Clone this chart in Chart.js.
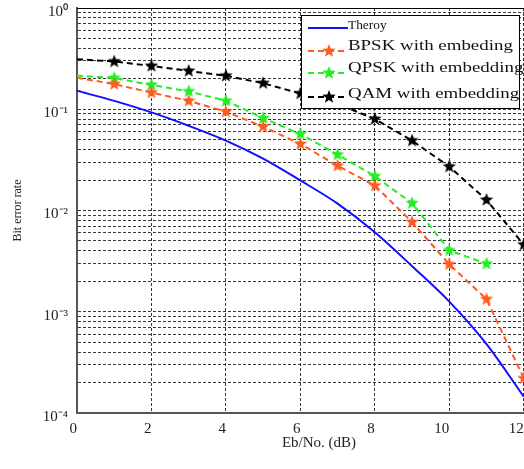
<!DOCTYPE html>
<html>
<head>
<meta charset="utf-8">
<script src="https://cdn.jsdelivr.net/npm/chart.js@4"></script>
<style>
  html, body { margin: 0; padding: 0; background: #fff; overflow: hidden; width: 524px; height: 469px; }
  #wrap { position: relative; width: 569px; height: 469px; }
  #legend {
    position: absolute; left: 301px; top: 15px; width: 217px; height: 92px;
    border: 1px solid #000; background: #fff;
    font-family: "Liberation Serif", "Times New Roman", serif; color: #111;
  }
  #legend canvas { position: absolute; left: 6px; }
  #legend span { position: absolute; left: 46px; line-height: 1; white-space: nowrap; transform-origin: left center; }
</style>
</head>
<body>
<div id="wrap">
  <canvas id="berChart" width="569" height="469"></canvas>
  <div id="legend"></div>
</div>
<script>
// Eb/No (dB) and bit error rate
const ebNo = [0, 1, 2, 3, 4, 5, 6, 7, 8, 9, 10, 11, 12];
const theory = [0.152, 0.121, 0.0931, 0.0687, 0.049, 0.0325, 0.0198, 0.0117, 0.0061, 0.00282, 0.00126, 0.000479, 0.000145];
const bpsk = [0.205, 0.177, 0.146, 0.121, 0.0945, 0.0673, 0.0454, 0.0277, 0.0176, 0.00767, 0.00294, 0.00133, 0.00022];
const qpsk = [0.215, 0.203, 0.174, 0.150, 0.121, 0.0819, 0.0569, 0.0356, 0.0218, 0.0118, 0.00404, 0.00298];
const qam = [0.312, 0.296, 0.268, 0.239, 0.214, 0.181, 0.143, 0.113, 0.080, 0.049, 0.0271, 0.0127, 0.0046];

const seriesNames = ["Theroy", "BPSK with embeding", "QPSK with embedding", "QAM with embedding"];
const xTickValues = [0, 2, 4, 6, 8, 10, 12];
const yDecades = [1e-4, 1e-3, 1e-2, 1e-1, 1];
const yTickLabels = ["10\u207B\u2074", "10\u207B\u00B3", "10\u207B\u00B2", "10\u207B\u00B9", "10\u2070"];

const serif = "'Liberation Serif', 'Times New Roman', serif";
const gridColor = "rgba(0,0,0,0.78)";

function starMarker(color) {
  const r = 7;
  const c = document.createElement("canvas");
  c.width = c.height = 2 * r + 2;
  const g = c.getContext("2d");
  g.beginPath();
  for (let k = 0; k < 10; k++) {
    const rad = k % 2 ? r * 0.42 : r;
    const a = -Math.PI / 2 + k * Math.PI / 5;
    g.lineTo(r + 1 + rad * Math.cos(a), r + 1 + rad * Math.sin(a));
  }
  g.closePath();
  g.fillStyle = color;
  g.fill();
  return c;
}

function points(values) {
  return values.map((v, i) => ({ x: ebNo[i], y: v }));
}

function markedSeries(label, values, color) {
  return {
    label: label,
    data: points(values),
    borderColor: color,
    backgroundColor: color,
    borderWidth: 2,
    borderDash: [6, 4],
    pointStyle: starMarker(color),
    pointRadius: (c) => (c.dataIndex === 0 ? 0 : 6),
    fill: false,
  };
}

// top edge of the axes box
const frame = {
  id: "frame",
  afterDraw(chart) {
    const { ctx, chartArea } = chart;
    ctx.save();
    ctx.strokeStyle = "#000";
    ctx.lineWidth = 1;
    ctx.beginPath();
    ctx.moveTo(chartArea.left, chartArea.top + 0.5);
    ctx.lineTo(chartArea.right, chartArea.top + 0.5);
    ctx.stroke();
    ctx.restore();
  },
};

const ctx = document.getElementById("berChart").getContext("2d");
const chart = new Chart(ctx, {
  type: "line",
  data: {
    datasets: [
      {
        label: seriesNames[0],
        data: points(theory),
        borderColor: "#1010ff",
        borderWidth: 2,
        pointRadius: 0,
        cubicInterpolationMode: "monotone",
        fill: false,
      },
      markedSeries(seriesNames[1], bpsk, "#ff5a1f"),
      markedSeries(seriesNames[2], qpsk, "#22ee22"),
      markedSeries(seriesNames[3], qam, "#000000"),
    ],
  },
  options: {
    responsive: false,
    animation: false,
    events: [],
    layout: { padding: { top: 7, right: 0, bottom: 0, left: 0 } },
    plugins: { legend: { display: false }, tooltip: { enabled: false } },
    scales: {
      x: {
        type: "linear",
        min: 0,
        max: 13,
        afterBuildTicks: (s) => { s.ticks = xTickValues.map((v) => ({ value: v })); },
        afterFit: (s) => {
          s.height = 56;
          s.paddingLeft = 0;
          s.paddingRight = 0;
        },
        grid: { color: gridColor, lineWidth: 1, drawTicks: false },
        border: { color: "#555", width: 2, dash: [3, 2] },
        ticks: {
          font: { family: serif, size: 15 },
          color: "#222",
          padding: 7,
          align: "end",
          maxRotation: 0,
          autoSkip: false,
        },
        title: {
          display: true,
          text: "Eb/No. (dB)",
          font: { family: serif, size: 15 },
          color: "#222",
          padding: { top: 0, bottom: 17 },
        },
      },
      y: {
        type: "logarithmic",
        min: 1e-4,
        max: 1,
        afterBuildTicks: (s) => {
          const ticks = [];
          for (let d = 0; d < yDecades.length - 1; d++) {
            for (let m = 1; m <= 9; m++) ticks.push({ value: m * yDecades[d] });
          }
          ticks.push({ value: yDecades[yDecades.length - 1] });
          s.ticks = ticks;
        },
        afterFit: (s) => {
          s.width = 77;
          s.paddingTop = 0;
          s.paddingBottom = 0;
        },
        grid: { color: gridColor, lineWidth: 1, drawTicks: false },
        border: { color: "#555", width: 2, dash: [3, 2] },
        ticks: {
          font: { family: serif, size: 15 },
          color: "#222",
          padding: 9,
          labelOffset: 4,
          autoSkip: false,
          callback: (v) => {
            const i = yDecades.findIndex((d) => Math.abs(v / d - 1) < 1e-6);
            return i >= 0 ? yTickLabels[i] : "";
          },
        },
        title: {
          display: true,
          text: "Bit error rate",
          font: { family: serif, size: 12 },
          color: "#222",
          padding: { top: 11, bottom: 0 },
        },
      },
    },
  },
  plugins: [frame],
});

// legend box drawn over the upper right corner
const legend = document.getElementById("legend");
const legendRows = [
  { sampleTop: 4, textTop: 2, size: 13, stretch: 1.03 },
  { sampleTop: 27, textTop: 22, size: 15, stretch: 1.26 },
  { sampleTop: 49, textTop: 44, size: 15, stretch: 1.26 },
  { sampleTop: 73, textTop: 70, size: 15, stretch: 1.26 },
];
chart.data.datasets.forEach((ds, i) => {
  const row = legendRows[i];
  const c = document.createElement("canvas");
  c.width = 42;
  c.height = 16;
  c.style.top = row.sampleTop + "px";
  const g = c.getContext("2d");
  g.strokeStyle = ds.borderColor;
  g.lineWidth = 2;
  g.setLineDash(ds.borderDash || []);
  g.beginPath();
  g.moveTo(0, 8);
  g.lineTo(40, 8);
  g.stroke();
  if (ds.borderDash) {
    const star = ds.pointStyle;
    g.drawImage(star, 21 - star.width / 2, 8 - star.height / 2);
  }
  legend.appendChild(c);

  const t = document.createElement("span");
  t.textContent = ds.label;
  t.style.top = row.textTop + "px";
  t.style.fontSize = row.size + "px";
  t.style.transform = "scaleX(" + row.stretch + ")";
  legend.appendChild(t);
});
</script>
</body>
</html>
